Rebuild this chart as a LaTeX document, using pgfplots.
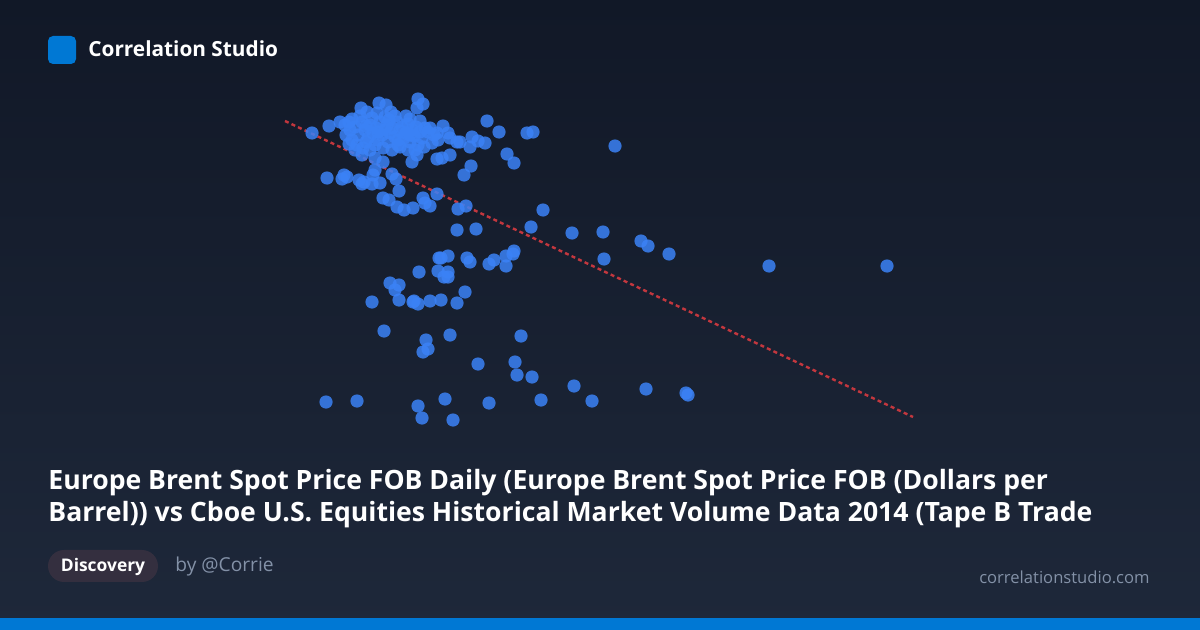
\documentclass[border=0pt]{standalone}
\usepackage{pgfplots}
\pgfplotsset{compat=1.18}
\usepackage{fontspec}
\setmainfont{Open Sans}
\definecolor{bgtop}{RGB}{17,24,39}
\definecolor{bgbot}{RGB}{30,40,58}
\definecolor{brand}{RGB}{0,120,212}
\definecolor{dot}{RGB}{59,130,246}
\definecolor{trend}{RGB}{214,58,64}
\definecolor{pill}{RGB}{52,47,63}
\definecolor{muted}{RGB}{131,145,167}

% scatter positions in pixels (y down)
\pgfplotstableread{
x y
312 133
329 126
340 122
349 122
361 108
367 112
379 103
386 105
391 112
377 113
418 99
423 104
417 108
406 116
487 121
499 132
527 133
533 132
345 125
350 130
355 127
358 135
362 122
365 130
368 138
370 125
373 133
376 128
378 140
380 122
382 135
385 130
387 125
388 142
390 133
392 128
395 137
397 122
398 145
400 131
402 127
404 138
406 133
408 124
410 142
412 130
414 136
416 127
418 145
420 132
422 138
425 128
352 140
357 145
363 148
370 150
375 145
383 148
392 150
400 147
408 150
415 150
424 147
432 143
438 140
430 128
434 135
346 135
360 116
372 118
385 117
395 116
410 119
420 121
352 119
366 142
389 120
378 132
410 135
398 140
366 126
355 150
428 132
437 133
443 126
448 133
460 142
472 137
478 141
485 143
470 147
450 138
457 142
349 144
362 155
375 158
383 162
412 162
417 155
437 159
442 158
450 155
507 154
514 163
615 146
327 178
344 175
347 177
342 179
359 180
364 182
362 184
372 184
380 183
375 170
373 175
392 174
396 179
399 191
383 198
389 200
397 207
404 210
413 208
423 198
425 203
430 206
437 194
458 209
466 206
464 175
471 166
543 210
457 230
476 229
531 227
572 233
603 232
604 259
641 241
648 246
669 254
769 266
887 266
439 258
441 258
448 256
467 258
470 262
489 264
494 260
506 256
514 251
513 254
506 266
419 272
438 271
448 272
444 277
448 277
390 283
399 285
395 290
372 302
399 300
414 301
418 304
413 302
430 301
441 300
457 303
465 292
384 331
426 340
428 349
423 352
450 335
521 336
478 364
515 362
517 375
532 377
574 386
646 389
686 393
688 395
326 402
357 401
418 406
445 399
489 403
541 400
592 401
422 418
453 420
}\dots

\begin{document}
\begin{tikzpicture}[x=0.5pt,y=-0.5pt]
\useasboundingbox (0,0) rectangle (1200,630);
\fill[top color=bgtop,bottom color=bgbot] (0,0) rectangle (1200,630);
\fill[brand] (0,618) rectangle (1200,630);

\begin{axis}[
	at={(0,630)},anchor=south west,
	scale only axis,
	width=600pt,height=315pt,
	xmin=0,xmax=1200,ymin=0,ymax=630,
	y dir=reverse,
	hide axis,
	clip=false
]
\addplot[only marks,color=dot,mark=*,mark size=3.3pt,
	mark options={fill=dot,draw=dot,fill opacity=0.85,draw opacity=0,line width=0pt}] table[x=x,y=y] {\dots};
\addplot[trend,line width=1.2pt,dash pattern=on 2pt off 1.6pt,opacity=0.9] coordinates {
	(285,121)
	(913,417)
};
\end{axis}

\fill[brand,rounded corners=2.5pt] (48,36) rectangle (76,64);
\node[anchor=base west,inner sep=0,text=white,font=\bfseries\fontsize{10.4}{12}\selectfont] at (88,57) {Correlation Studio};

\node[anchor=base west,inner sep=0,text=white,font=\bfseries\fontsize{13.3}{15}\selectfont] at (48,490)
	{Europe Brent Spot Price FOB Daily (Europe Brent Spot Price FOB (Dollars per};
\node[anchor=base west,inner sep=0,text=white,font=\bfseries\fontsize{13.3}{15}\selectfont] at (48,522)
	{Barrel)) vs Cboe U.S. Equities Historical Market Volume Data 2014 (Tape B Trade};

\fill[pill,rounded corners=8pt] (48,550) rectangle (158,582);
\node[text=white,inner sep=0,font=\bfseries\fontsize{8.7}{10}\selectfont] at (103,567) {Discovery};
\node[anchor=west,inner sep=0,text=muted,font=\fontsize{9.6}{11}\selectfont] at (175,567) {by @Corrie};
\node[anchor=east,inner sep=0,text=muted,font=\fontsize{8.3}{10}\selectfont] at (1150,577) {correlationstudio.com};
\end{tikzpicture}
\end{document}
